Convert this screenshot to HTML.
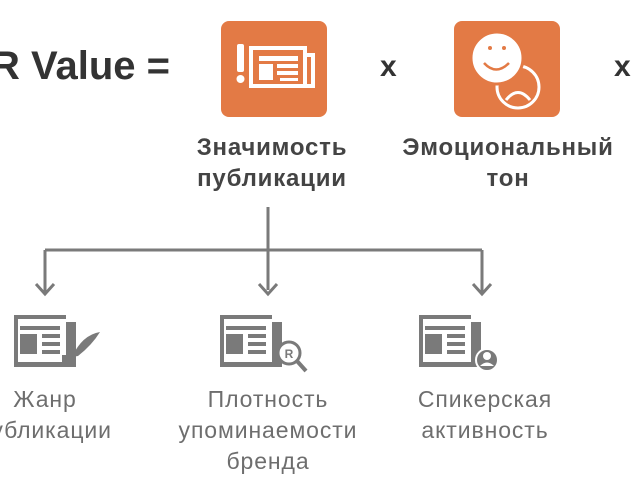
<!DOCTYPE html>
<html><head><meta charset="utf-8"><style>
body{margin:0;width:640px;height:480px;background:#fff;position:relative;overflow:hidden;font-family:"Liberation Sans","DejaVu Sans",sans-serif}
.t{position:absolute;white-space:nowrap}
.b{font-weight:bold;color:#444;font-size:24px;letter-spacing:0.8px;text-align:center;line-height:31px}
.g{color:#6e6e6e;font-size:23px;letter-spacing:0.9px;text-align:center;line-height:31px}
</style></head><body>
<div class="t" style="left:-9px;top:44px;font-size:40px;font-weight:bold;color:#333">R Value =</div>
<div class="t" style="left:380px;top:50px;font-size:30px;font-weight:bold;color:#333">x</div>
<div class="t" style="left:614px;top:50px;font-size:30px;font-weight:bold;color:#333">x</div>
<svg width="640" height="480" style="position:absolute;left:0;top:0">
<rect x="221" y="21" width="106" height="96" rx="8" fill="#e37a45"/>
<rect x="454" y="21" width="106" height="96" rx="8" fill="#e37a45"/>
<g fill="#fff"><rect x="237" y="44" width="7" height="28" rx="2"/><circle cx="240.5" cy="79" r="4"/></g>
<g fill="none" stroke="#fff" stroke-width="4"><path d="M251 86 V48 H305 V86 Z"/><path d="M305 55 H313 V86 H305"/></g>
<g fill="#fff"><rect x="259" y="56" width="39" height="5"/><rect x="259" y="64" width="14" height="16"/><rect x="277" y="64" width="21" height="4"/><rect x="277" y="71" width="21" height="4"/><rect x="280" y="78" width="18" height="3"/></g>
<circle cx="518" cy="87" r="21" fill="none" stroke="#fff" stroke-width="3"/>
<path d="M506 100 Q518 85 530 100" fill="none" stroke="#fff" stroke-width="3"/>
<circle cx="497" cy="58" r="26" fill="#fff" stroke="#e37a45" stroke-width="3"/>
<circle cx="490" cy="48" r="2" fill="#e37a45"/><circle cx="504" cy="48" r="2" fill="#e37a45"/>
<path d="M484 63 Q496 76 509 63" fill="none" stroke="#e37a45" stroke-width="2.5"/>
<g stroke="#7a7a7a" stroke-width="3" fill="none"><path d="M268 207 V290"/><path d="M45 250 H482"/><path d="M45 250 V292"/><path d="M482 250 V292"/></g>
<g fill="none" stroke="#7a7a7a" stroke-width="3"><path d="M36 284 L45 294 L54 284"/><path d="M259 284 L268 294 L277 284"/><path d="M473 284 L482 294 L491 284"/></g>
<g id="np" fill="#7a7a7a">
<path d="M14 315 H66 V319 H18 V362 H66 V367 H14 Z"/><rect x="66" y="322" width="10" height="45"/>
<rect x="20" y="326" width="40" height="4"/><rect x="20" y="334" width="17" height="20"/><rect x="42" y="334" width="18" height="4"/><rect x="42" y="342" width="18" height="4"/><rect x="42" y="350" width="18" height="4"/>
</g>
<path d="M72 357 Q82 335 100 332 Q92 345 78 356 Z" fill="#7a7a7a"/><rect x="62" y="355" width="10" height="11" fill="#7a7a7a"/>
<use href="#np" x="206"/>
<circle cx="289" cy="353" r="11" fill="#fff" stroke="#7a7a7a" stroke-width="3"/>
<text x="289" y="358" font-size="12" font-weight="bold" fill="#7a7a7a" text-anchor="middle" font-family="Liberation Sans">R</text>
<path d="M297 361 L306 371" stroke="#7a7a7a" stroke-width="4"/>
<use href="#np" x="405"/>
<circle cx="487" cy="360" r="11" fill="#7a7a7a" stroke="#fff" stroke-width="2"/>
<circle cx="487" cy="356" r="4" fill="#fff"/><path d="M480 366 Q487 359 494 366 Z" fill="#fff"/>
</svg>
<div class="t b" style="left:162px;top:132px;width:220px">Значимость<br>публикации</div>
<div class="t b" style="left:398px;top:132px;width:220px">Эмоциональный<br>тон</div>
<div class="t g" style="left:-55px;top:384px;width:200px">Жанр<br>публикации</div>
<div class="t g" style="left:158px;top:384px;width:220px">Плотность<br>упоминаемости<br>бренда</div>
<div class="t g" style="left:385px;top:384px;width:200px">Спикерская<br>активность</div>
</body></html>
